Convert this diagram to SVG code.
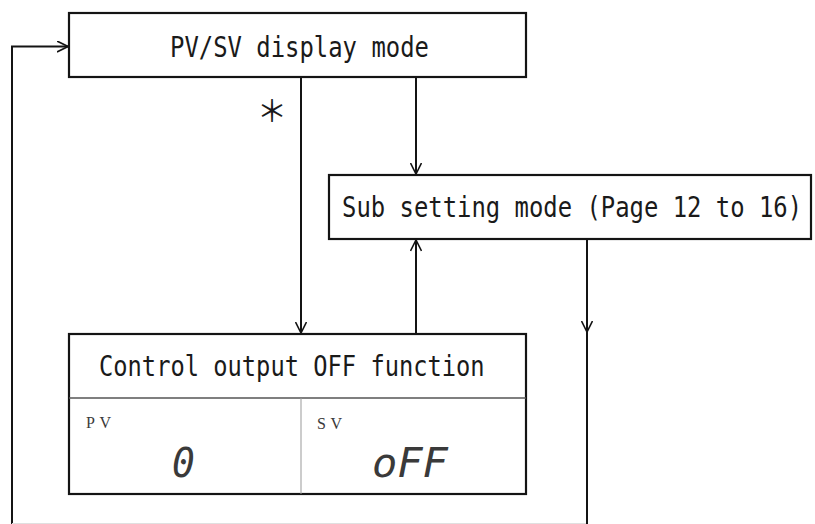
<svg xmlns="http://www.w3.org/2000/svg" width="815" height="524" viewBox="0 0 815 524">
  <style>
    .box { fill: #fff; stroke: #141414; stroke-width: 2.2; }
    .wire { fill: none; stroke: #141414; stroke-width: 2; }
    .label { font-family: "DejaVu Sans Mono", "Liberation Mono", monospace; font-size: 28px; fill: #1a1a1a; }
    .tag { font-family: "Liberation Serif", serif; font-size: 16px; fill: #3a3a3a; letter-spacing: 4.5px; }
    .seg { font-family: "DejaVu Sans Mono", monospace; font-size: 40px; font-style: italic; fill: #3a3a3a; }
  </style>
  <defs>
    <marker id="arrow" viewBox="0 0 12 12" refX="11.5" refY="6" markerWidth="12" markerHeight="12" markerUnits="userSpaceOnUse" orient="auto">
      <path d="M0.5,0.5 L11.5,6 L0.5,11.5" fill="none" stroke="#141414" stroke-width="1.6"/>
    </marker>
  </defs>

  <rect width="815" height="524" fill="#fff"/>

  <!-- connectors -->
  <g id="connectors">
    <!-- return loop into the display mode -->
    <path class="wire" d="M12,524 V46.5 H68" marker-end="url(#arrow)"/>
    <line x1="12" y1="523.5" x2="587" y2="523.5" stroke="#e0e0e0" stroke-width="1"/>
    <!-- display mode to OFF function (marked *) -->
    <path class="wire" d="M301,77 V333" marker-end="url(#arrow)"/>
    <!-- display mode to sub setting -->
    <path class="wire" d="M416,77 V174" marker-end="url(#arrow)"/>
    <!-- OFF function back to sub setting -->
    <path class="wire" d="M416,334 V240" marker-end="url(#arrow)"/>
    <!-- sub setting onward -->
    <path class="wire" d="M587,239 V332" marker-end="url(#arrow)"/>
    <path class="wire" d="M587,330 V524"/>
    <text x="272" y="122" font-family="'Noto Sans CJK JP', sans-serif" font-size="30" text-anchor="middle" fill="#1a1a1a">＊</text>
  </g>

  <!-- PV/SV display mode -->
  <g id="display-mode">
    <rect class="box" x="69" y="13" width="457" height="64"/>
    <text class="label" transform="translate(170,56.5) scale(0.854,1)">PV/SV display mode</text>
  </g>

  <!-- Sub setting mode -->
  <g id="sub-setting">
    <rect class="box" x="329" y="175" width="482" height="64"/>
    <text class="label" transform="translate(342,216.5) scale(0.853,1)">Sub setting mode (Page 12 to 16)</text>
  </g>

  <!-- Control output OFF function -->
  <g id="off-function">
    <rect class="box" x="69" y="334" width="457" height="160"/>
    <line x1="69" y1="398" x2="526" y2="398" stroke="#555" stroke-width="1.5"/>
    <line x1="301" y1="398" x2="301" y2="494" stroke="#999" stroke-width="1"/>
    <text class="label" transform="translate(99,376) scale(0.848,1)">Control output OFF function</text>
    <text class="tag" x="86" y="428">PV</text>
    <text class="tag" x="317" y="429">SV</text>
    <text class="seg" transform="translate(172,477) scale(0.95,1)">0</text>
    <text class="seg" transform="translate(372,477) scale(1.05,1)">oFF</text>
  </g>
</svg>
